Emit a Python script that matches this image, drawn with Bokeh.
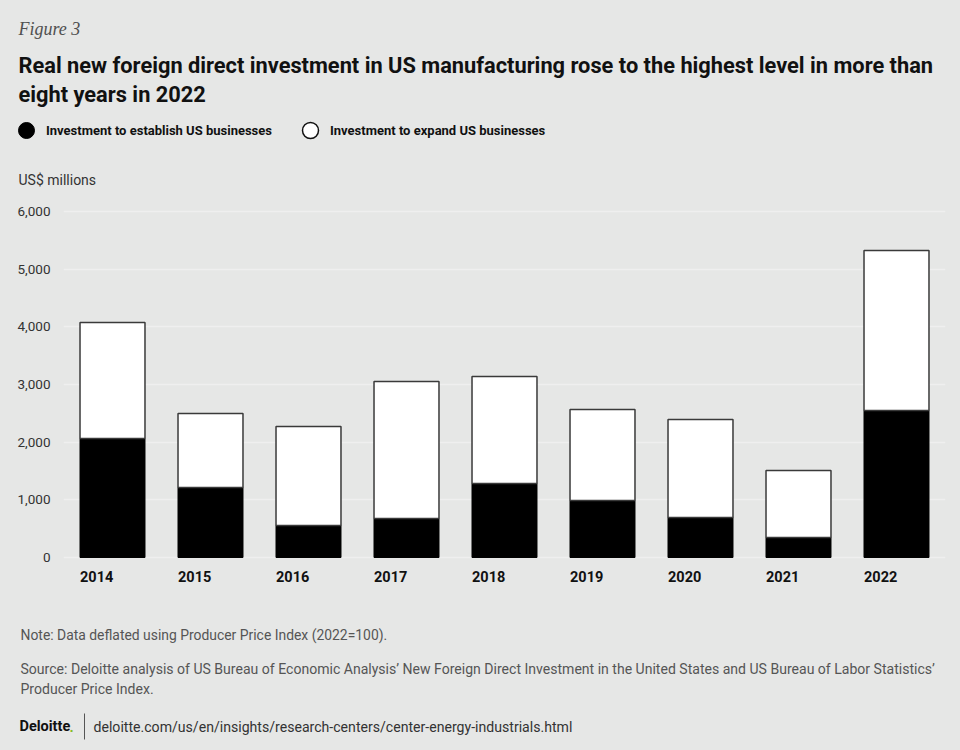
from bokeh.plotting import figure
from bokeh.models import (ColumnDataSource, FactorRange, Range1d, Legend, LegendItem,
                          SingleIntervalTicker, NumeralTickFormatter)
from bokeh.transform import dodge
from bokeh.core.properties import value
from bokeh.embed import file_html
from bokeh.resources import INLINE

# ---------------- data ----------------
years = ["2014", "2015", "2016", "2017", "2018", "2019", "2020", "2021", "2022"]
establish = [2063, 1214, 555, 676, 1283, 988, 694, 347, 2549]
expand_total = [4075, 2497, 2272, 3052, 3139, 2566, 2393, 1509, 5324]
expand = [t - e for t, e in zip(expand_total, establish)]
y_ticks_interval = 1000

fig_label = "Figure 3"
title_1 = "Real new foreign direct investment in US manufacturing rose to the highest level in more than"
title_2 = "eight years in 2022"
legend_labels = ["Investment to establish US businesses", "Investment to expand US businesses"]
y_unit = "US$ millions"
note = "Note: Data deflated using Producer Price Index (2022=100)."
source_1 = ("Source: Deloitte analysis of US Bureau of Economic Analysis\u2019 New Foreign Direct Investment "
            "in the United States and US Bureau of Labor Statistics\u2019")
source_2 = "Producer Price Index."
brand = "Deloitte"
url = "deloitte.com/us/en/insights/research-centers/center-energy-industrials.html"

BG = "#e6e7e6"
SANS = "Roboto"
SERIF = "Liberation Serif"
W = 960


def panel(h, y0):
    f = figure(width=W, height=h, output_backend="svg", toolbar_location=None,
               x_range=Range1d(0, W), y_range=Range1d(y0 + h, y0),
               min_border=0, background_fill_color=BG, border_fill_color=BG,
               outline_line_color=None)
    f.axis.visible = False
    f.grid.visible = False
    return f


def txt(f, s, x, y, size, style="normal", color="#333333", font=SANS):
    f.text(x=[x], y=[y], text=[s], text_font=value(font), text_font_size=size,
           text_font_style=style, text_color=color, text_align="left", text_baseline="middle")


# ---------------- header ----------------
top = panel(190, 0)
txt(top, fig_label, 18, 28, "18px", "italic", "#505050", SERIF)
txt(top, title_1, 18, 65, "21.8px", "bold", "#111111")
txt(top, title_2, 18, 94, "21.8px", "bold", "#111111")
txt(top, y_unit, 18, 179, "14px", "normal", "#333333")

nan = float("nan")
lg_black = top.scatter(x=[nan], y=[nan], marker="circle", fill_color="black", line_color="black")
lg_white = top.scatter(x=[nan], y=[nan], marker="circle", fill_color="white", line_color="#111111",
                       line_width=1.5)
for rend, lab, vx in [(lg_black, legend_labels[0], 6), (lg_white, legend_labels[1], 290)]:
    lg = Legend(items=[LegendItem(label=lab, renderers=[rend])], location=(vx, 40),
                glyph_width=40, glyph_height=40, label_standoff=-6, padding=0, margin=0,
                border_line_color=None, background_fill_alpha=0,
                label_text_font=SANS, label_text_font_style="bold",
                label_text_font_size="13px", label_text_color="#111111")
    top.add_layout(lg, "center")

# ---------------- chart ----------------
src = ColumnDataSource(dict(year=years, establish=establish, expand=expand))
p = figure(width=W, height=410, output_backend="svg", toolbar_location=None,
           x_range=FactorRange(factors=years, range_padding=0),
           y_range=Range1d(-659, 6190.75),
           min_border_left=63, min_border_right=15, min_border_top=10, min_border_bottom=5,
           background_fill_color=BG, border_fill_color=BG, outline_line_color=None)

p.vbar_stack(["establish", "expand"], x="year", width=0.663, source=src,
             fill_color=["black", "white"], line_color=["black", "#3a3a3a"],
             line_width=[1, 1.5])

p.text(x=dodge("year", -0.3315, range=p.x_range), y=0, text="year", source=src,
       text_font=value(SANS), text_font_style="bold", text_font_size="14.5px",
       text_color="#111111", text_align="left", text_baseline="middle", y_offset=19)

p.xaxis.visible = False
p.xgrid.visible = False
p.ygrid.grid_line_color = "#efefef"
p.ygrid.grid_line_width = 1.5
p.ygrid.ticker = SingleIntervalTicker(interval=y_ticks_interval)

yax = p.yaxis[0]
yax.ticker = SingleIntervalTicker(interval=y_ticks_interval)
yax.formatter = NumeralTickFormatter(format="0,0")
yax.axis_line_color = None
yax.major_tick_line_color = None
yax.minor_tick_line_color = None
yax.major_tick_out = 0
yax.minor_tick_out = 0
yax.major_label_standoff = 13
yax.major_label_text_font = SANS
yax.major_label_text_font_size = "13.5px"
yax.major_label_text_color = "#333333"

# ---------------- footer ----------------
bot = panel(150, 600)
txt(bot, note, 20, 634, "13.9px", "normal", "#555555")
txt(bot, source_1, 20, 668, "14.05px", "normal", "#555555")
txt(bot, source_2, 20, 688, "14.05px", "normal", "#555555")
txt(bot, brand, 19, 726, "14.5px", "bold", "#111111")
txt(bot, ".", 69, 726, "14.5px", "bold", "#86bc25")
bot.segment(x0=[84], y0=[713], x1=[84], y1=[739], line_color="#555555", line_width=1)
txt(bot, url, 93, 726, "14.1px", "normal", "#333333")

html = file_html([top, p, bot], INLINE)
html = html.replace("<head>", "<head><style>body{background:%s;}</style>" % BG, 1)
open("out.html", "w").write(html)
